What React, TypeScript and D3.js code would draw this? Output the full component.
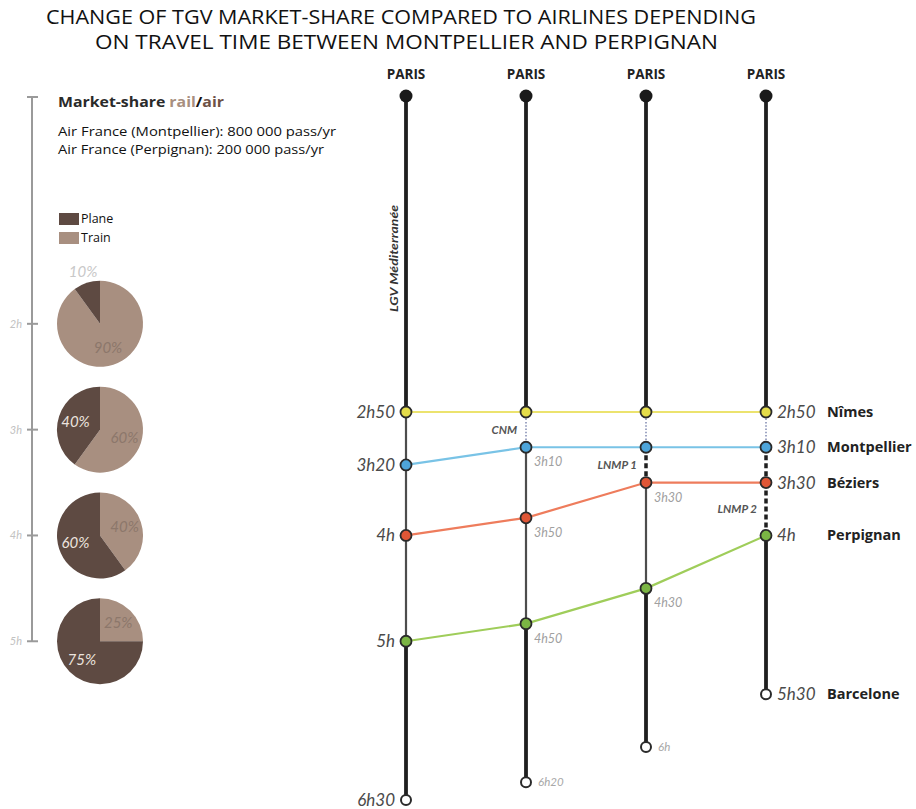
import React from "react";
import * as d3 from "d3";

// ---------- data ----------
const titleLines = [
  "CHANGE OF TGV MARKET-SHARE COMPARED TO AIRLINES DEPENDING",
  "ON TRAVEL TIME BETWEEN MONTPELLIER AND PERPIGNAN",
];
const routeOrigins = ["PARIS", "PARIS", "PARIS", "PARIS"];
const stations = ["Nîmes", "Montpellier", "Béziers", "Perpignan"];
const terminus = "Barcelone";
// travel time from Paris, minutes, per scenario column, per station
const stopMinutes = [
  [170, 200, 240, 300],
  [170, 190, 230, 290],
  [170, 190, 210, 270],
  [170, 190, 210, 240],
];
const endMinutes = [390, 380, 360, 330];
const sectionLabels = [
  { col: 1, seg: 1, text: "CNM" },
  { col: 2, seg: 2, text: "LNMP 1" },
  { col: 3, seg: 3, text: "LNMP 2" },
];
const lgvLabel = "LGV Méditerranée";
const pieHours = [2, 3, 4, 5];
const axisHours = [2, 3, 4, 5];
const trainShare = [90, 60, 40, 25];
const planeShare = [10, 40, 60, 75];
const airTraffic = [
  { city: "Montpellier", pax: "800 000" },
  { city: "Perpignan", pax: "200 000" },
];

// ---------- styles ----------
const segTypes = [
  ["thick", "thin", "thin", "thin", "thick"],
  ["thick", "dotted", "thin", "thin", "thick"],
  ["thick", "dotted", "dashed", "thin", "thick"],
  ["thick", "dotted", "dashed", "dashed", "thick"],
];
const segStyle: Record<string, any> = {
  thick: { stroke: "#1f1f1f", strokeWidth: 3.8 },
  thin: { stroke: "#4d4d4d", strokeWidth: 2.2 },
  dotted: { stroke: "#9fa6c4", strokeWidth: 2, strokeDasharray: "1.5 1.8" },
  dashed: { stroke: "#1f1f1f", strokeWidth: 3.5, strokeDasharray: "5 3" },
};
const rowDot = ["#e4dc4a", "#4ea5d9", "#df5636", "#7bb544"];
const rowLine = ["#ece36e", "#79c3e6", "#ee7c5c", "#9fcd5a"];
const trainColor = "#a88f80";
const planeColor = "#5e4a42";

const W = 916;
const H = 809;

const fmt = (m: number) => {
  const h = Math.floor(m / 60);
  const mm = m % 60;
  return mm ? `${h}h${mm}` : `${h}h`;
};

export default function App() {
  const x = d3.scalePoint<number>().domain([0, 1, 2, 3]).range([406, 766]);
  const y = d3.scaleLinear().domain([170, 390]).range([412, 800]);
  const parisY = 96;
  const rightFont = "Lato, 'Open Sans', sans-serif";
  const boldFont = "'Open Sans', Lato, sans-serif";
  const leftFont = "'Open Sans', 'Liberation Sans', sans-serif";

  const pieGen = d3.pie<number>().sort(null).value((d) => d);
  const pieR = 43;
  const arc = d3.arc<any>().innerRadius(0).outerRadius(pieR);
  const axisX = 32;

  const line = d3
    .line<[number, number]>()
    .x((d) => d[0])
    .y((d) => d[1])
    .curve(d3.curveLinear);

  const bigTime = { fontFamily: rightFont, fontStyle: "italic", fontSize: 17, fill: "#4a4a4a" };
  const smallTime = { fontFamily: rightFont, fontStyle: "italic", fontSize: 12.5, fill: "#a0a0a0" };

  return (
    <div style={{ position: "absolute", left: 0, top: 0 }}>
      <svg width={W} height={H} style={{ display: "block", background: "#fff" }}>
        {/* Title */}
        <text
          x={46}
          y={24}
          textLength={710}
          lengthAdjust="spacingAndGlyphs"
          style={{ fontFamily: "'Liberation Sans Narrow', 'Open Sans', sans-serif", fontSize: 20, fill: "#111" }}
        >
          {titleLines[0]}
        </text>
        <text
          x={95}
          y={49}
          textLength={623}
          lengthAdjust="spacingAndGlyphs"
          style={{ fontFamily: "'Liberation Sans Narrow', 'Open Sans', sans-serif", fontSize: 20, fill: "#111" }}
        >
          {titleLines[1]}
        </text>

        {/* Left time axis */}
        <g>
          <line x1={axisX} x2={axisX} y1={parisY + 1} y2={y(axisHours[axisHours.length - 1] * 60)} stroke="#9a9a9a" strokeWidth={2} />
          <line x1={axisX - 5} x2={axisX + 6} y1={parisY + 1} y2={parisY + 1} stroke="#9a9a9a" strokeWidth={2} />
          {axisHours.map((h) => (
            <g key={h}>
              <line x1={axisX - 5} x2={axisX + 6} y1={y(h * 60)} y2={y(h * 60)} stroke="#9a9a9a" strokeWidth={2} />
              <text
                x={axisX - 10}
                y={y(h * 60) + 4}
                textAnchor="end"
                style={{ fontFamily: rightFont, fontStyle: "italic", fontSize: 11, fill: "#c2c2c2" }}
              >
                {`${h}h`}
              </text>
            </g>
          ))}
        </g>

        {/* Legend header */}
        <text x={58} y={107} textLength={166} lengthAdjust="spacingAndGlyphs" style={{ fontFamily: leftFont, fontSize: 14.5, fontWeight: 700, fill: "#2a2a2a" }}>
          Market-share <tspan fill={trainColor}>rail</tspan>
          <tspan fill="#111">/</tspan>
          <tspan fill="#6e5247">air</tspan>
        </text>
        {airTraffic.map((a, i) => {
          const s = `Air France (${a.city}): ${a.pax} pass/yr`;
          return (
            <text
              key={a.city}
              x={58}
              y={136 + i * 18}
              textLength={i === 0 ? 278 : 266}
              lengthAdjust="spacingAndGlyphs"
              style={{ fontFamily: leftFont, fontSize: 12.5, fill: "#111" }}
            >
              {s}
            </text>
          );
        })}
        {[
          { label: "Plane", color: planeColor },
          { label: "Train", color: trainColor },
        ].map((l, i) => (
          <g key={l.label}>
            <rect x={59} y={213 + i * 19} width={20} height={12} fill={l.color} />
            <text x={81} y={223 + i * 19} style={{ fontFamily: leftFont, fontSize: 12.5, fill: "#111" }}>
              {l.label}
            </text>
          </g>
        ))}

        {/* Pies */}
        {pieHours.map((h, i) => {
          const cy = y(h * 60);
          const arcs = pieGen([trainShare[i], planeShare[i]]);
          return (
            <g key={h} transform={`translate(100,${cy})`}>
              {arcs.map((a, j) => (
                <path key={j} d={arc(a) as string} fill={j === 0 ? trainColor : planeColor} />
              ))}
              {arcs.map((a, j) => {
                const mid = (a.startAngle + a.endAngle) / 2;
                const small = a.value < 15;
                const rr = small ? pieR + 12 : pieR * 0.6;
                const lx = Math.sin(mid) * rr;
                const ly = -Math.cos(mid) * rr;
                const fill = small ? "#c8c8c8" : j === 0 ? "#8c776b" : "#ece4df";
                return (
                  <text
                    key={"t" + j}
                    x={lx}
                    y={ly + 5}
                    textAnchor="middle"
                    style={{ fontFamily: rightFont, fontStyle: "italic", fontSize: 15, fill }}
                  >
                    {`${a.value}%`}
                  </text>
                );
              })}
            </g>
          );
        })}

        {/* Route columns */}
        {stopMinutes.map((stops, c) => {
          const ys = [parisY, ...stops.map((m) => y(m)), y(endMinutes[c])];
          return (
            <g key={"col" + c}>
              {segTypes[c].map((t, s) => (
                <line key={s} x1={x(c)} x2={x(c)} y1={ys[s]} y2={ys[s + 1]} {...segStyle[t]} />
              ))}
            </g>
          );
        })}

        {/* Section labels */}
        {sectionLabels.map((s) => {
          const stops = stopMinutes[s.col];
          const y1 = y(stops[s.seg - 1]);
          const y2 = y(stops[s.seg]);
          return (
            <text
              key={s.text}
              x={(x(s.col) as number) - 9}
              y={(y1 + y2) / 2 + 4}
              textAnchor="end"
              style={{ fontFamily: rightFont, fontStyle: "italic", fontWeight: 700, fontSize: 11.5, fill: "#555" }}
            >
              {s.text}
            </text>
          );
        })}

        {/* LGV label */}
        <text
          transform={`translate(${(x(0) as number) - 8},${312}) rotate(-90)`}
          textLength={107}
          lengthAdjust="spacingAndGlyphs"
          style={{ fontFamily: rightFont, fontStyle: "italic", fontWeight: 700, fontSize: 10.5, fill: "#333" }}
        >
          {lgvLabel}
        </text>

        {/* Connecting coloured lines */}
        {stations.map((st, r) => (
          <path
            key={"ln" + st}
            d={line(stopMinutes.map((stops, c) => [x(c) as number, y(stops[r])])) as string}
            fill="none"
            stroke={rowLine[r]}
            strokeWidth={2.2}
          />
        ))}

        {/* Paris dots and labels */}
        {routeOrigins.map((o, c) => (
          <g key={"p" + c}>
            <circle cx={x(c)} cy={parisY} r={6.5} fill="#1a1a1a" />
            <text
              x={x(c)}
              y={79}
              textAnchor="middle"
              style={{ fontFamily: boldFont, fontWeight: 700, fontSize: 13.5, fill: "#222" }}
            >
              {o}
            </text>
          </g>
        ))}

        {/* Stop dots */}
        {stopMinutes.map((stops, c) =>
          stops.map((m, r) => (
            <circle
              key={`d${c}-${r}`}
              cx={x(c)}
              cy={y(m)}
              r={5.5}
              fill={rowDot[r]}
              stroke="#2a2a2a"
              strokeWidth={1.8}
            />
          ))
        )}
        {/* End dots */}
        {endMinutes.map((m, c) => (
          <circle key={"e" + c} cx={x(c)} cy={y(m)} r={5} fill="#fff" stroke="#2a2a2a" strokeWidth={2} />
        ))}

        {/* Time labels */}
        {stopMinutes.map((stops, c) =>
          stops.map((m, r) => {
            const cx = x(c) as number;
            if (c === 0) {
              return (
                <text key={`l${c}-${r}`} x={cx - 11} y={y(m) + 6} textAnchor="end" style={bigTime}>
                  {fmt(m)}
                </text>
              );
            }
            if (c === 3) {
              return (
                <text key={`l${c}-${r}`} x={cx + 11} y={y(m) + 6} style={bigTime}>
                  {fmt(m)}
                </text>
              );
            }
            if (stopMinutes[c - 1][r] === m) return null;
            return (
              <text key={`l${c}-${r}`} x={cx + 8} y={y(m) + 19} style={smallTime}>
                {fmt(m)}
              </text>
            );
          })
        )}
        {endMinutes.map((m, c) => {
          const cx = x(c) as number;
          if (c === 0)
            return (
              <text key={"el" + c} x={cx - 11} y={y(m) + 6} textAnchor="end" style={bigTime}>
                {fmt(m)}
              </text>
            );
          if (c === 3)
            return (
              <text key={"el" + c} x={cx + 11} y={y(m) + 6} style={bigTime}>
                {fmt(m)}
              </text>
            );
          return (
            <text key={"el" + c} x={cx + 12} y={y(m) + 4}
              style={{ fontFamily: rightFont, fontStyle: "italic", fontSize: 11.5, fill: "#a8a8a8" }}>
              {fmt(m)}
            </text>
          );
        })}

        {/* Station names */}
        {stations.map((s, r) => (
          <text key={"s" + s} x={827} y={y(stopMinutes[3][r]) + 5}
            style={{ fontFamily: boldFont, fontWeight: 700, fontSize: 14.5, fill: "#222" }}>
            {s}
          </text>
        ))}
        <text x={827} y={y(endMinutes[3]) + 5}
          style={{ fontFamily: boldFont, fontWeight: 700, fontSize: 14.5, fill: "#222" }}>
          {terminus}
        </text>
      </svg>
    </div>
  );
}
